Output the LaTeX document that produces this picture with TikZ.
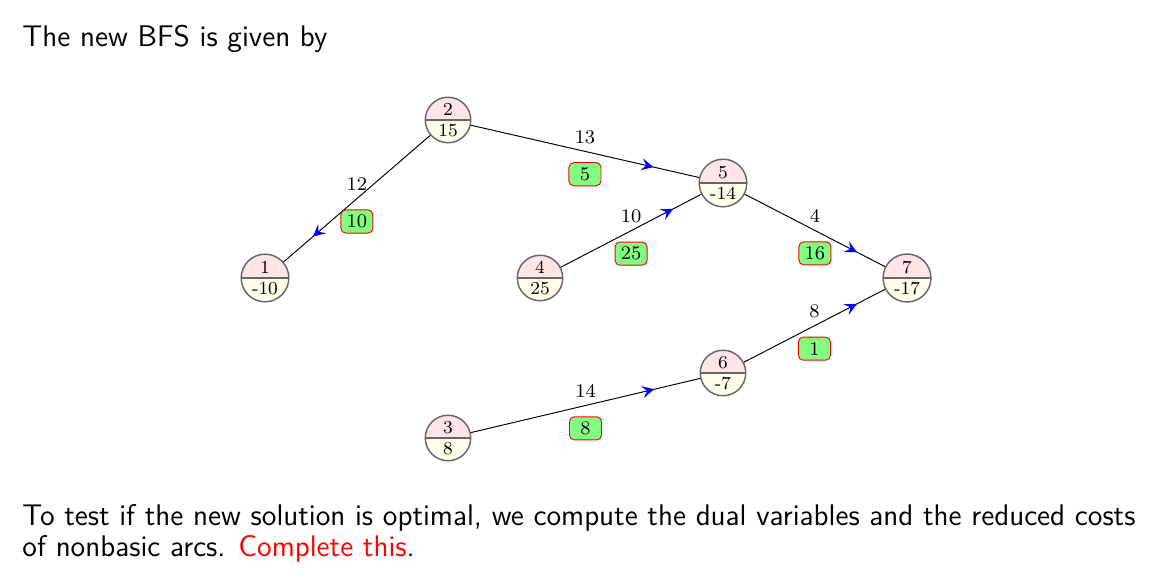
\documentclass[tikz,border=0pt]{standalone}
\usepackage{tikz}
\usetikzlibrary{arrows.meta,positioning,shapes.multipart,decorations.markings}
\tikzset{
  vtx/.style={circle split, draw=black!60, semithick, minimum size=18.9pt,
              inner xsep=0pt, inner ysep=1.4pt, font=\fontsize{7.6}{9}\selectfont,
              path picture={
                \fill[red!10] (path picture bounding box.north west) rectangle (path picture bounding box.east);
                \fill[yellow!8] (path picture bounding box.west) rectangle (path picture bounding box.south east);
              }},
  flw/.style={rectangle, rounded corners=2pt, draw=red, thin, fill=green!50,
              minimum width=13.3pt, minimum height=9.6pt, inner sep=1pt, font=\footnotesize},
  cst/.style={font=\footnotesize, inner sep=1pt},
  arc/.style={draw=black, thin, postaction={decorate},
              decoration={markings, mark=at position 0.8 with
                {\arrow[blue]{Stealth[length=5pt,width=5pt,inset=2pt]}}}},
  txt/.style={font=\sffamily\fontsize{12.4}{12.9}\selectfont, inner sep=0pt, align=left},
}

\begin{document}
\begin{tikzpicture}[x=0.0146cm, y=-0.0146cm]
\useasboundingbox (0,0) rectangle (1156,581);

% ============================ slide text ================================
\node[txt, anchor=base west] (intro) at (22,47) {The new BFS is given by};

% ============================ vertices ==================================
\node[vtx] (n1) at (265,278) {1 \nodepart{lower} -10};
\node[vtx] (n2) at (448,120) {2 \nodepart{lower} 15};
\node[vtx] (n3) at (448,438) {3 \nodepart{lower} 8};
\node[vtx] (n4) at (540,278) {4 \nodepart{lower} 25};
\node[vtx] (n5) at (723,183) {5 \nodepart{lower} -14};
\node[vtx] (n6) at (723,373) {6 \nodepart{lower} -7};
\node[vtx] (n7) at (907,278) {7 \nodepart{lower} -17};

% ============================ basic arcs ================================
\draw[arc] (n2) -- node[cst, above=2pt] {12} node[flw, below=4.5pt] {10} (n1);
\draw[arc] (n2) -- node[cst, above=2pt] {13} node[flw, below=4.5pt] {5} (n5);
\draw[arc] (n4) -- node[cst, above=2pt] {10} node[flw, below=4.5pt] {25} (n5);
\draw[arc] (n5) -- node[cst, above=2pt] {4} node[flw, below=4.5pt] {16} (n7);
\draw[arc] (n6) -- node[cst, above=2pt] {8} node[flw, below=4.5pt] {1} (n7);
\draw[arc] (n3) -- node[cst, above=2pt] {14} node[flw, below=4.5pt] {8} (n6);

% ============================ follow-up =================================
\node[txt, anchor=north west] (task) at (22,504)
  {To test if the new solution is optimal, we compute the dual variables and the reduced costs\\
   of nonbasic arcs. \textcolor{red}{Complete this}.};

\end{tikzpicture}
\end{document}
